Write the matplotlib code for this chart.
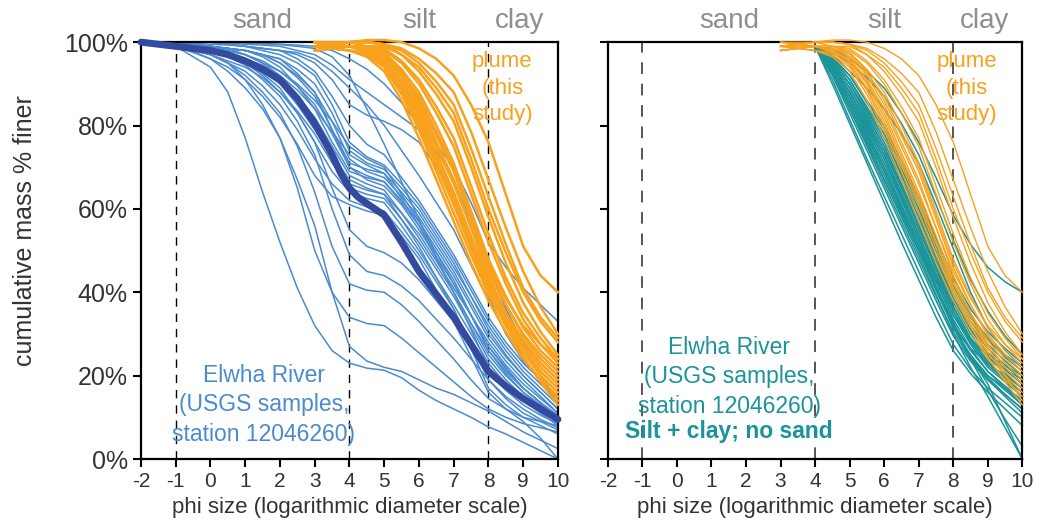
import matplotlib
matplotlib.use("Agg")
import matplotlib.pyplot as plt

plt.rcParams['font.family'] = ['Liberation Sans', 'DejaVu Sans']
plt.rcParams['axes.unicode_minus'] = False

# phi grids
phi_blue = [-2, -1, 0, 0.5, 1, 1.5, 2, 2.5, 3, 3.5, 4, 4.5, 5, 5.5, 6, 6.5,
            7, 7.5, 8, 8.5, 9, 9.5, 10]
phi_plume = [3, 3.5, 4, 4.5, 5, 5.5, 6, 6.5, 7, 7.5, 8, 8.5, 9, 9.5, 10]
phi_teal = [4, 4.5, 5, 5.5, 6, 6.5, 7, 7.5, 8, 8.5, 9, 9.5, 10]

# Elwha river samples, % finer at each phi (left panel)
blue_curves = [
    [100, 99, 94, 88, 77, 64, 52, 41, 32, 26, 23, 21.8, 21.3, 19.5, 16.5, 14, 12, 10, 7.7, 6, 4, 2, 0],
    [100, 99.5, 96, 93, 89, 84, 77, 65, 50, 40, 34, 32.5, 32, 29, 25.5, 22, 18.5, 15, 12, 10, 8.5, 7.5, 6.5],
    [100, 99.5, 97, 95, 92, 88, 83, 75, 64, 51, 42, 40.5, 40, 37, 33, 28.5, 24, 19, 14.5, 12, 10, 9, 8],
    [100, 99.5, 97, 95, 91, 85, 77, 67, 56, 40, 27, 23.5, 22, 21, 19, 17, 15.5, 13.5, 11.5, 9, 6.5, 4.5, 2.5],
    [100, 99.5, 98, 96.5, 94.5, 91, 87, 81, 73, 60, 49, 45, 44, 41.5, 38, 33.5, 29, 24, 19, 15, 12, 9.5, 7.5],
    [100, 99.5, 98, 97, 95, 92, 88, 83, 76, 65, 55, 51, 49.5, 47, 43, 38, 33, 27, 21, 16.5, 13, 10.5, 8.5],
    [100, 100, 99, 98.5, 98, 97, 95, 92, 88, 81, 72, 69, 67.5, 63, 58, 51.5, 45, 37.5, 30, 24.5, 20, 16, 12],
    [100, 100, 99, 98.5, 97, 95, 93, 89.5, 85, 78, 70, 67, 65.5, 61, 55, 48.5, 42, 34.5, 27, 22, 17, 13.5, 10],
    [100, 99, 98, 97, 96, 94, 91, 87, 82, 75, 68, 66, 64.5, 59, 53, 46.5, 40, 32.5, 25, 20, 16, 12.5, 9],
    [100, 100, 99, 98.5, 98, 97, 96, 93.5, 90, 83, 74, 71, 69.5, 65, 60, 53.5, 47, 39, 31, 25, 20, 16, 12],
    [100, 99, 97, 95.5, 94, 91.5, 88, 83.5, 78, 71, 65, 63.5, 62.5, 57.5, 52, 45.5, 39, 31.5, 24, 19, 15, 12, 9],
    [100, 99, 98, 96.5, 95, 92.5, 89, 83, 76, 69, 64, 62.5, 61.5, 56, 50, 43.5, 37, 30, 23, 18, 14, 11, 8],
    [100, 100, 99, 98, 97, 95, 92, 86.5, 80, 72.5, 66, 64.5, 63.5, 59, 54, 47.5, 41, 34.5, 28, 22.5, 18, 14.5, 11],
    [100, 100, 100, 99.5, 99, 98, 97, 95, 92, 85, 76, 72.5, 70.5, 66, 61, 54.5, 48, 40.5, 33, 27, 22, 18, 14],
    [100, 99, 97, 95, 93, 89.5, 85, 79, 72, 66, 62, 60.5, 59.5, 54.5, 49, 42.5, 36, 27.5, 19, 14.5, 11, 9, 7],
    [100, 100, 99, 98.5, 98, 96.5, 94, 89.5, 84, 76, 69, 67.5, 66.5, 62, 57, 50.5, 44, 36.5, 29, 23.5, 19, 15, 11],
    [100, 99, 96, 94, 91, 87, 82, 75.5, 68, 63, 61, 59.5, 58.5, 53.5, 48, 40.5, 33, 24.5, 16, 12, 9, 5, 0],
    [100, 100, 99, 98.5, 98, 97, 96, 92.5, 88, 79, 71, 69.5, 68.5, 64, 59, 52.5, 46, 39, 32, 26, 21, 17, 13],
    [100, 100, 100, 99.5, 99, 98.5, 98, 96, 93, 87, 80, 75.5, 73, 67.5, 62, 55.5, 49, 41.5, 34, 28, 23, 19, 15],
    [100, 99, 98, 97, 96, 94.5, 92, 88.5, 84, 78.5, 73, 70.5, 68.5, 62.5, 56, 49.5, 43, 34.5, 26, 20.5, 16, 13, 10],
    [100, 100, 99, 98, 97, 95.5, 93, 90, 86, 81, 75, 72, 70, 63.5, 57, 49.5, 42, 34.5, 27, 21.5, 17, 13.5, 10],
    [100, 99, 98, 96.5, 95, 93, 90, 85, 79, 73, 67, 65, 63.5, 57.5, 51, 43.5, 36, 26.5, 17, 13, 10, 8, 6],
    [100, 100, 99, 98.5, 98, 97, 95, 91.5, 87, 79, 70, 68, 66.5, 61.5, 56, 48, 40, 31, 22, 17.5, 14, 11.5, 9],
    [100, 100, 100, 100, 100, 99.7, 99.5, 99.3, 99, 98, 96, 93.5, 90, 85.5, 80, 75.5, 70, 61.5, 52, 46, 41, 37, 33],
    [100, 100, 100, 99.8, 99.5, 99.3, 99, 98, 97, 94.5, 91, 88, 85, 82, 79, 74, 67, 57, 46, 36, 28, 23, 19],
    [100, 100, 100, 99.5, 99, 98.5, 98, 97, 95, 91, 85, 82.5, 81, 79, 76, 70, 62, 51, 39, 30, 23.5, 19, 15],
    [100, 100, 99.5, 99.3, 99, 98.5, 98, 97.5, 96, 93, 89, 85, 80, 74, 68, 61.5, 55, 46.5, 38, 30.5, 24, 19, 14],
    [100, 100, 100, 100, 99.8, 99.6, 99.4, 99, 98.5, 96.5, 92, 84, 75.5, 66.5, 57.5, 48.5, 40, 32.5, 26, 21, 17, 13.5, 10.5],
]

# mean of the river samples (thick line)
mean_phi = [-2, -1, 0, 0.5, 1, 1.5, 2, 2.5, 3, 3.5, 3.75, 4, 4.25, 4.5, 5,
            5.5, 6, 6.5, 7, 7.5, 8, 8.5, 9, 9.5, 10]
mean_pct = [100, 99, 98, 97, 95.5, 93.5, 91, 86.5, 80.5, 73, 68.5, 65, 62.8,
            61.3, 58.5, 52, 45, 39.5, 34, 27.5, 21, 17.5, 14.5, 12, 9.5]

# plume samples (this study)
plume_curves = [
    [98, 98.5, 98, 96.5, 93, 86, 77, 67, 57, 47, 38, 30.5, 24, 19, 15],
    [99, 98.5, 98, 97, 94, 87.5, 79, 69, 59, 49, 39.5, 32, 25.5, 20, 16],
    [99, 99.5, 99, 97.5, 94.5, 88.5, 80, 70.5, 61, 50.5, 40.5, 33, 26.5, 21, 17],
    [98, 98.5, 99, 98, 95, 89, 81, 71.5, 62, 52, 42, 34, 27, 20, 14],
    [100, 99.5, 99, 98, 95.5, 90, 82, 72.5, 63, 52, 41, 32, 24.5, 18.5, 13],
    [99, 98.5, 98, 97.5, 95.5, 90.5, 83, 73.5, 64, 53.5, 43, 35, 28.5, 23, 19],
    [99, 99, 99, 98, 96, 91, 84, 75, 66, 55.5, 45, 37, 30, 25, 21],
    [98, 98.5, 99, 98.5, 96.5, 92, 85, 76, 67, 55.5, 44, 35, 27.5, 22, 18],
    [99, 99.5, 100, 99, 97.5, 93, 86, 77.5, 69, 57.5, 46, 37, 29.5, 24, 20],
    [100, 99.5, 99, 98.5, 97.5, 93.5, 88, 80, 71, 59.5, 48, 39, 31.5, 26, 22],
    [99, 99, 99, 99, 98, 95, 90, 83, 75, 63.5, 52, 42, 33.5, 27.5, 23],
    [98, 98.5, 99, 99, 98.5, 95.5, 91, 84.5, 77, 65.5, 54, 43.5, 35, 29, 24],
    [99, 99.5, 100, 100, 99.5, 97, 93, 87.5, 81, 70, 58, 47, 37.5, 30.5, 25],
    [99, 99.5, 100, 100, 99.5, 98, 95, 90.5, 85, 74.5, 63, 51.5, 41, 34, 29],
    [100, 100, 100, 100, 99.5, 98.5, 96, 92.5, 88, 78.5, 67, 55.5, 45, 36.5, 30],
    [99, 99.5, 100, 100.5, 100.5, 100, 98.5, 96, 92, 85, 76, 63.5, 51, 44, 40],
    [99, 99, 99, 99, 99, 97, 94, 89, 83, 72, 60, 49.5, 40, 33, 28],
    [98, 98.5, 99, 98.5, 97, 92.5, 87, 78.5, 70, 58.5, 47, 38.5, 32, 27.5, 24],
]

# river samples with silt + clay only (right panel)
teal_curves = [
    [99, 90, 80.5, 71, 61.5, 52, 43, 34, 26, 20.5, 16, 12, 8],
    [99, 91, 81.5, 72, 63, 54, 45, 36, 27.5, 21.5, 17, 13.5, 10],
    [99, 92, 83, 74, 65, 56, 47, 38, 29.5, 23.5, 19, 15.5, 12],
    [99, 92.5, 84, 75, 66, 57, 48, 39, 30.5, 24, 19, 15, 11],
    [99, 93, 85, 76.5, 68, 59, 50, 40.5, 31.5, 25, 20, 16.5, 13],
    [99, 93.5, 86, 77.5, 69, 60, 51, 41.5, 32.5, 26, 21, 17.5, 14],
    [99, 93.5, 86, 78, 70, 61, 52, 42.5, 33.5, 26.5, 21, 17, 13],
    [99, 94, 87, 79, 71, 62, 53, 43.5, 34.5, 27.5, 22, 18.5, 15],
    [99, 94, 87, 79.5, 72, 63, 54, 44.5, 35.5, 28.5, 23, 19.5, 16],
    [99, 94.5, 88, 80.5, 73, 64, 55, 45.5, 36.5, 29, 23.5, 19, 15],
    [99, 94.5, 88, 81, 74, 65, 56, 46.5, 37.5, 30, 24.5, 20.5, 17],
    [99, 95, 89, 82, 75, 66, 57, 47.5, 38.5, 31, 25.5, 21.5, 18],
    [99, 95.5, 90, 83, 76, 67, 58, 48.5, 39.5, 32, 26.5, 22.5, 19],
    [99, 95.5, 90, 83.5, 77, 68.5, 60, 50, 40.5, 33, 27.5, 23.5, 20],
    [99, 96, 91, 84.5, 78, 69.5, 61, 51, 41.5, 34, 28.5, 24.5, 21],
    [99, 96.5, 92, 86, 80, 71.5, 63, 53, 43.5, 36, 30.5, 26.5, 23],
    [99, 93, 85, 76, 67, 58, 49, 39.5, 30, 22, 15, 7.5, 0],
    [99, 92.5, 84, 75.5, 67, 58.5, 50, 41, 32, 24.5, 18, 9, 0],
    [99, 94.5, 88, 80, 72, 62.5, 53, 43, 33, 24, 16.5, 9.5, 3],
    [99, 95, 89, 81.5, 74, 65, 56, 46, 36.5, 29, 24.5, 21.5, 19],
    [99, 93.5, 86, 78, 70, 61, 52, 41.5, 31.5, 24.5, 19.5, 15.5, 12],
    [99, 94, 87, 78.5, 70, 60.5, 51, 41, 31.5, 24.5, 20, 17, 14],
    [99, 95.5, 90, 82.5, 75, 65.5, 56, 45.5, 35.5, 28, 22.5, 19, 16],
    [99, 96, 91, 84, 77, 68, 59, 48.5, 38.5, 31, 25.5, 21.5, 18],
    [99, 97, 93, 89, 84, 78, 71, 61, 50.5, 40, 31.5, 26, 22],
    [99, 98.5, 96, 93, 89, 83, 76, 67.5, 58.5, 51.5, 46, 42.5, 40],
    [99, 97.5, 95, 91.5, 87, 80.5, 73, 63, 52.5, 43, 35.5, 29.5, 25],
    [99, 94.5, 88, 80.5, 73, 63.5, 54, 44, 34.5, 28.5, 25, 22.5, 20],
    [99, 93, 85, 77, 69, 59.5, 50, 41, 32, 26.5, 23, 20, 17],
    [99, 96, 92, 85.5, 79, 70.5, 62, 52, 42, 34.5, 29, 25, 22],
]

size_classes = ['sand', 'silt', 'clay']
class_phi = [1.5, 6.0, 8.9]
class_breaks = [-1, 4, 8]
xticks = list(range(-2, 11))
yticks = [0, 20, 40, 60, 80, 100]

c_blue = '#4a8bd0'
c_mean = '#334a9f'
c_orange = '#f8a11d'
c_teal = '#1b939a'
c_grey = '#8e8e8e'
c_text = '#333333'

fig = plt.figure(figsize=(10.39, 5.27), dpi=100)
ax1 = fig.add_axes([0.1357, 0.129, 0.4013, 0.791])
ax2 = fig.add_axes([0.585, 0.129, 0.399, 0.791])

for ax in (ax1, ax2):
    ax.set_xlim(-2, 10)
    ax.set_ylim(0, 100)
    ax.set_xticks(xticks)
    ax.set_yticks(yticks)
    ax.tick_params(direction='out', length=6, width=1.5, colors='black',
                   labelcolor=c_text, labelsize=15)
    for s in ax.spines.values():
        s.set_linewidth(1.6)
    ax.set_xlabel('phi size (logarithmic diameter scale)', fontsize=16,
                  color=c_text, labelpad=4)
    for name, p in zip(size_classes, class_phi):
        ax.text(p, 105, name, ha='center', va='center', fontsize=20,
                color=c_grey)

ax1.set_yticklabels(['%d%%' % v for v in yticks])
ax1.tick_params(axis='y', labelsize=18)
ax2.set_yticklabels([])
ax1.set_ylabel('cumulative mass % finer', fontsize=18, color=c_text)
ax1.yaxis.set_label_coords(-0.25, 0.547)

# size class boundaries
for b in class_breaks:
    ax1.axvline(b, color='black', lw=1, ls=(0, (6, 5)), zorder=1)
    ax2.axvline(b, color='#555555', lw=1.4, ls=(0, (6, 5)), zorder=1)

# left panel
for c in blue_curves:
    ax1.plot(phi_blue, c, color=c_blue, lw=1.1, zorder=2, clip_on=False)
ax1.plot(mean_phi, mean_pct, color=c_mean, lw=5, zorder=3,
         solid_capstyle='round', solid_joinstyle='round', clip_on=False)
for c in plume_curves:
    ax1.plot(phi_plume, c, color=c_orange, lw=1.8, zorder=4, clip_on=False)

# right panel
for c in teal_curves:
    ax2.plot(phi_teal, c, color=c_teal, lw=1.1, zorder=2, clip_on=False)
for c in plume_curves:
    ax2.plot(phi_plume, c, color=c_orange, lw=1.0, zorder=3, clip_on=False)

for ax in (ax1, ax2):
    ax.text(8.4, 89, 'plume\n(this\nstudy)', ha='center', va='center',
            fontsize=16, color=c_orange, linespacing=1.37)

ax1.text(1.54, 13, 'Elwha River\n(USGS samples,\nstation 12046260)',
         ha='center', va='center', fontsize=16.5, color=c_blue, linespacing=1.35)
ax2.text(1.51, 19.7, 'Elwha River\n(USGS samples,\nstation 12046260)',
         ha='center', va='center', fontsize=16.5, color=c_teal, linespacing=1.35)
ax2.text(1.51, 6.5, 'Silt + clay; no sand', ha='center', va='center',
         fontsize=16.5, color=c_teal, fontweight='bold')

fig.savefig('out.png', dpi=100)
